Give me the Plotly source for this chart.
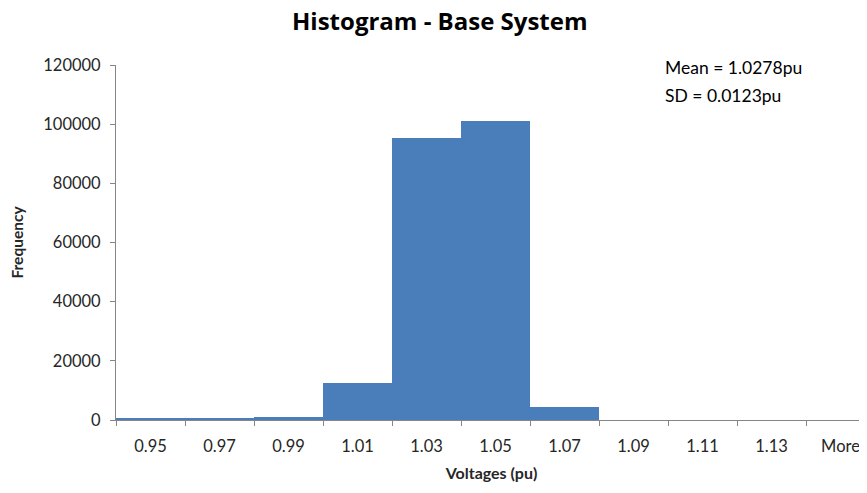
import plotly.graph_objects as go

categories = ["0.95", "0.97", "0.99", "1.01", "1.03", "1.05", "1.07", "1.09", "1.11", "1.13", "More"]
frequency = [600, 600, 1100, 12600, 95200, 101200, 4300, 0, 0, 0, 0]
y_ticks = [0, 20000, 40000, 60000, 80000, 100000, 120000]

FONT = "Lato"
AX = "#868686"
OFF = 8  # page body margin

W, H = 867 - OFF, 493 - OFF
L, T, B = 116 - OFF, 65 - OFF, 73
PW, PH = W - L, H - T - B

fig = go.Figure(go.Bar(
    x=categories, y=frequency,
    marker=dict(color="#4a7ebb", line=dict(width=0)),
    hoverinfo="x+y",
))

fig.update_layout(
    width=W, height=H,
    margin=dict(l=L, r=0, t=T, b=B, autoexpand=False),
    paper_bgcolor="white", plot_bgcolor="white",
    bargap=0,
    showlegend=False,
    font=dict(family=FONT, color="#262626", size=16),
    xaxis=dict(
        type="category", range=[-0.5, 10.5 - 8 / 69],
        showline=True, linecolor=AX, linewidth=1,
        ticks="outside", tickson="boundaries", ticklen=5, tickcolor=AX,
        tickfont=dict(size=16.5, color="#262626"), ticklabelstandoff=11,
        showgrid=False, zeroline=False,
        title=dict(text="<b>Voltages (pu)</b>", font=dict(size=16, color="#262626"), standoff=13),
    ),
    yaxis=dict(
        range=[0, 120000], tickvals=y_ticks, ticktext=[str(v) for v in y_ticks],
        showline=True, linecolor=AX, linewidth=1,
        ticks="outside", ticklen=5, tickcolor=AX,
        tickfont=dict(size=16.5, color="#262626"), ticklabelstandoff=6,
        showgrid=False, zeroline=False,
        title=dict(text="<b>Frequency</b>", font=dict(size=15.5, color="#262626"), standoff=18),
    ),
    annotations=[
        dict(text="<b>Histogram - Base System</b>", xref="paper", yref="paper",
             x=(440 - 116) / PW, y=1 + (65 - 21) / PH, xanchor="center", yanchor="middle",
             showarrow=False, font=dict(size=24, color="#000000", family="Open Sans")),
        dict(text="Mean = 1.0278pu", xref="paper", yref="paper",
             x=(663 - 116) / PW, y=1 + (65 - 67) / PH, xanchor="left", yanchor="middle",
             showarrow=False, font=dict(size=17.5, color="#000000")),
        dict(text="SD = 0.0123pu", xref="paper", yref="paper",
             x=(663 - 116) / PW, y=1 + (65 - 95) / PH, xanchor="left", yanchor="middle",
             showarrow=False, font=dict(size=17.5, color="#000000")),
    ],
)

fig.write_html("out.html")
